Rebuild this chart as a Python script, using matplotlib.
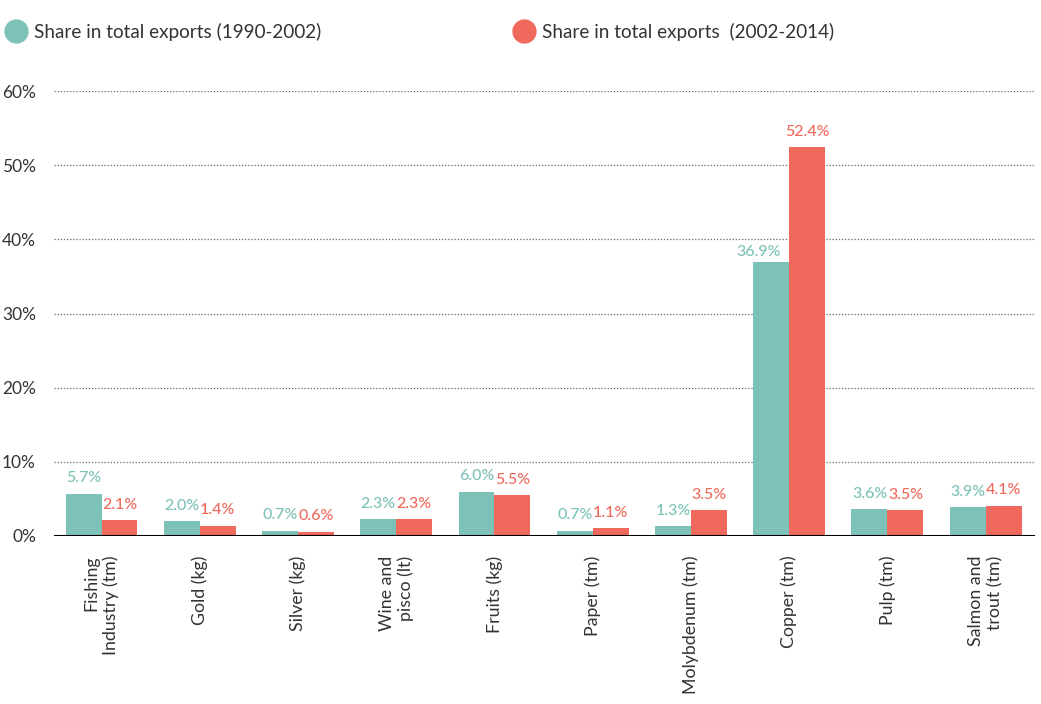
import numpy as np
import matplotlib.pyplot as plt
from matplotlib.lines import Line2D

# ─── Data ─────────────────────────────────────────────────────────────────────
categories = [
    "Fishing\nIndustry (tm)", "Gold (kg)", "Silver (kg)", "Wine and\npisco (lt)",
    "Fruits (kg)", "Paper (tm)", "Molybdenum (tm)", "Copper (tm)", "Pulp (tm)",
    "Salmon and\ntrout (tm)",
]
share_1990_2002 = [5.7, 2.0, 0.7, 2.3, 6.0, 0.7, 1.3, 36.9, 3.6, 3.9]
share_2002_2014 = [2.1, 1.4, 0.6, 2.3, 5.5, 1.1, 3.5, 52.4, 3.5, 4.1]
y_ticks = [0, 10, 20, 30, 40, 50, 60]
legend_labels = ["Share in total exports (1990-2002)", "Share in total exports  (2002-2014)"]

TEAL = "#7DC2B8"
RED = "#EF6A5D"
TEXT = "#333333"

plt.rcParams["font.family"] = ["Lato", "DejaVu Sans"]

fig = plt.figure(figsize=(10.41, 7.04), dpi=100)
ax = fig.add_axes([54 / 1041, 168 / 704, 981 / 1041, 445 / 704])

x = np.arange(len(categories))
w = 0.366

b1 = ax.bar(x - w / 2, share_1990_2002, w, color=TEAL, zorder=3)
b2 = ax.bar(x + w / 2, share_2002_2014, w, color=RED, zorder=3)

# value labels; the short copper bar gets its label nudged left, clear of the tall one
for bars, vals, other, col in [(b1, share_1990_2002, share_2002_2014, TEAL),
                               (b2, share_2002_2014, share_1990_2002, RED)]:
    for rect, v, o in zip(bars, vals, other):
        off = (-9, 2.5) if o > v + 10 else (0, 6)
        ax.annotate(f"{v:.1f}%", (rect.get_x() + rect.get_width() / 2, v),
                    xytext=off, textcoords="offset points",
                    ha="center", va="bottom", fontsize=11.5, fontweight="medium",
                    color=col)

ax.set_xlim(-0.4835, 9.502)
ax.set_ylim(0, 60)
ax.set_yticks(y_ticks)
ax.set_yticklabels([f"{t}%" for t in y_ticks], fontsize=12.5, color=TEXT)
ax.set_xticks(x)
ax.set_xticklabels(categories, rotation=90, fontsize=12.8, color=TEXT,
                   va="top", ha="center", multialignment="right")
ax.tick_params(axis="both", length=0)
ax.tick_params(axis="y", pad=13)
ax.tick_params(axis="x", pad=14)

for t in y_ticks[1:]:
    ax.axhline(t, color="#666666", linestyle=(0, (1, 1.5)), linewidth=0.9, zorder=1)
ax.axhline(0, color="black", linewidth=1.5, zorder=4)

for s in ax.spines.values():
    s.set_visible(False)

# Legend: one entry per column, placed at the top of the figure
for lbl, col, xpos in [(legend_labels[0], TEAL, 0.006), (legend_labels[1], RED, 0.494)]:
    h = Line2D([], [], marker="o", linestyle="", markersize=16.5, color=col)
    fig.legend([h], [lbl], loc="center left", bbox_to_anchor=(xpos, 1 - 32 / 704),
               frameon=False, fontsize=13.6, handlelength=1.0, handletextpad=0.45,
               borderpad=0, borderaxespad=0, labelcolor=TEXT)

fig.savefig("out.png", dpi=100)
